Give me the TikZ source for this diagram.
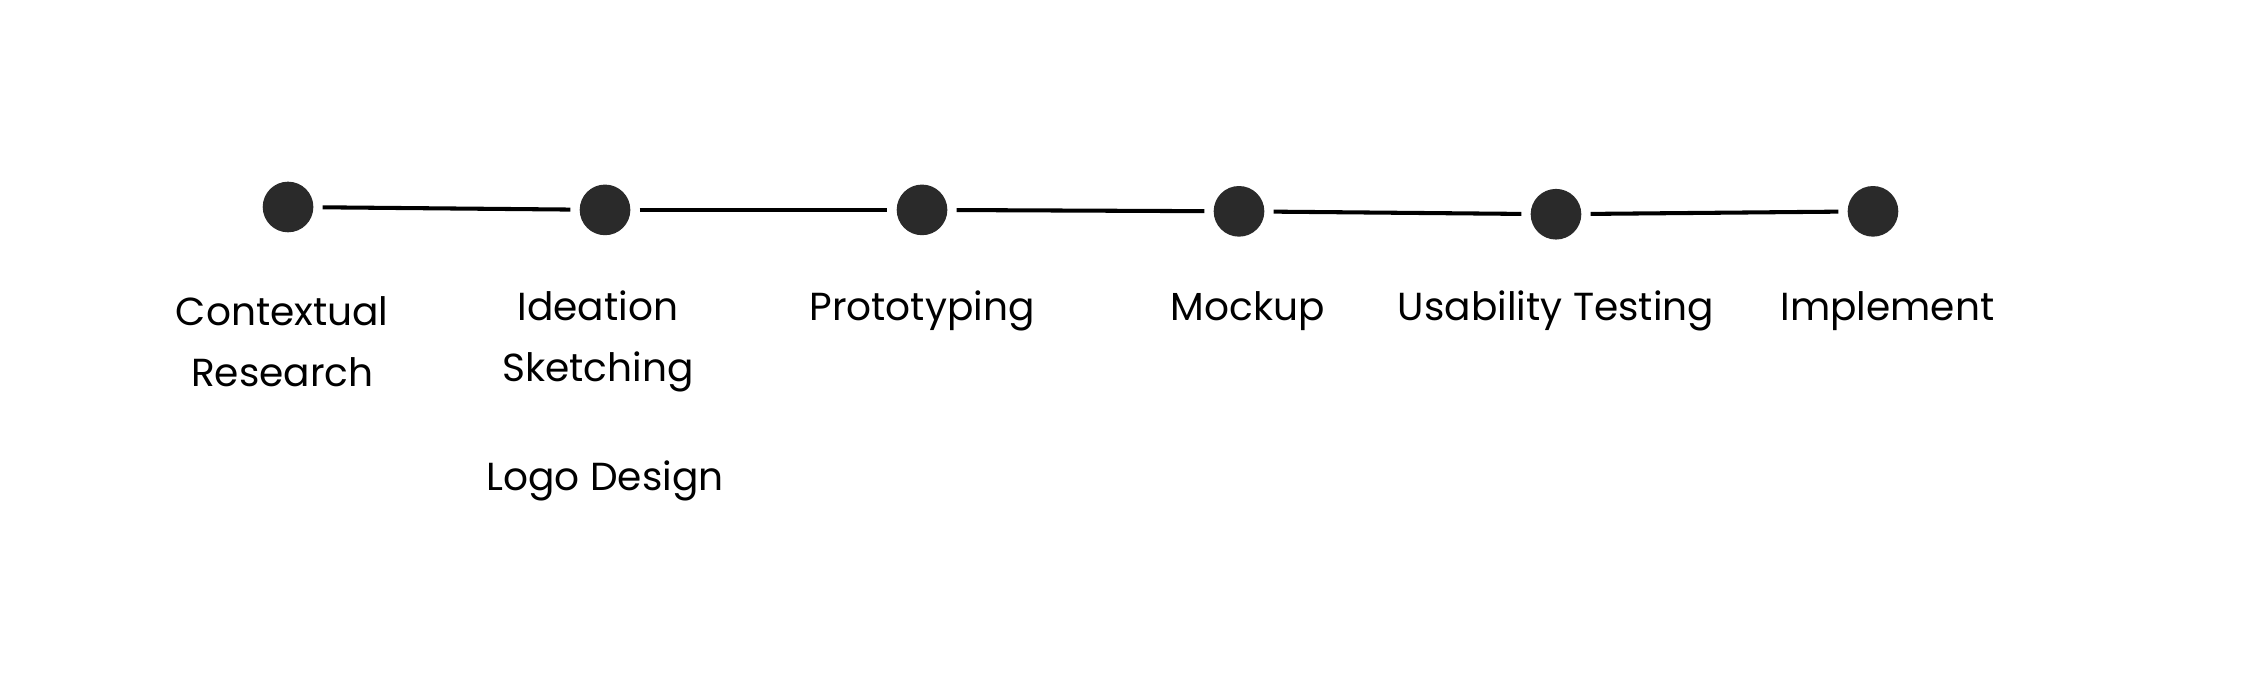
\documentclass[tikz,border=0pt]{standalone}
\usepackage{fontspec}
\setmainfont{Poppins}
\usetikzlibrary{positioning}
\definecolor{dotgray}{HTML}{2A2A2A}
\begin{document}
\begin{tikzpicture}[x=0.5pt, y=-0.5pt,
  stage/.style = {circle, fill=dotgray, minimum size=17.5pt, inner sep=0pt},
  lbl/.style   = {font=\fontsize{13.5}{21}\selectfont, align=center, anchor=center},
  link/.style  = {line width=1.4pt, shorten <=3pt, shorten >=3pt}
                    ]
\useasboundingbox (0,0) rectangle (1560,467);
% stages
\node (s1) [stage] at (199,143) {};
\node (s2) [stage] at (418,145) {};
\node (s3) [stage] at (637,145) {};
\node (s4) [stage] at (856,146) {};
\node (s5) [stage] at (1075,148) {};
\node (s6) [stage] at (1294,146) {};
% links
\draw[link] (s1) -- (s2);
\draw[link] (s2) -- (s3);
\draw[link] (s3) -- (s4);
\draw[link] (s4) -- (s5);
\draw[link] (s5) -- (s6);
% labels
\node (t1) [lbl] at (195,236) {Contextual\\Research};
\node (t2) [lbl] at (413,236) {Ideation\\Sketching};
\node (t3) [lbl] at (637,215) {Prototyping};
\node (t4) [lbl] at (862,215) {Mockup};
\node (t5) [lbl] at (1075,215) {Usability Testing};
\node (t6) [lbl] at (1304,215) {Implement};
\node (t7) [lbl] at (418,332) {Logo Design};
\end{tikzpicture}
\end{document}
